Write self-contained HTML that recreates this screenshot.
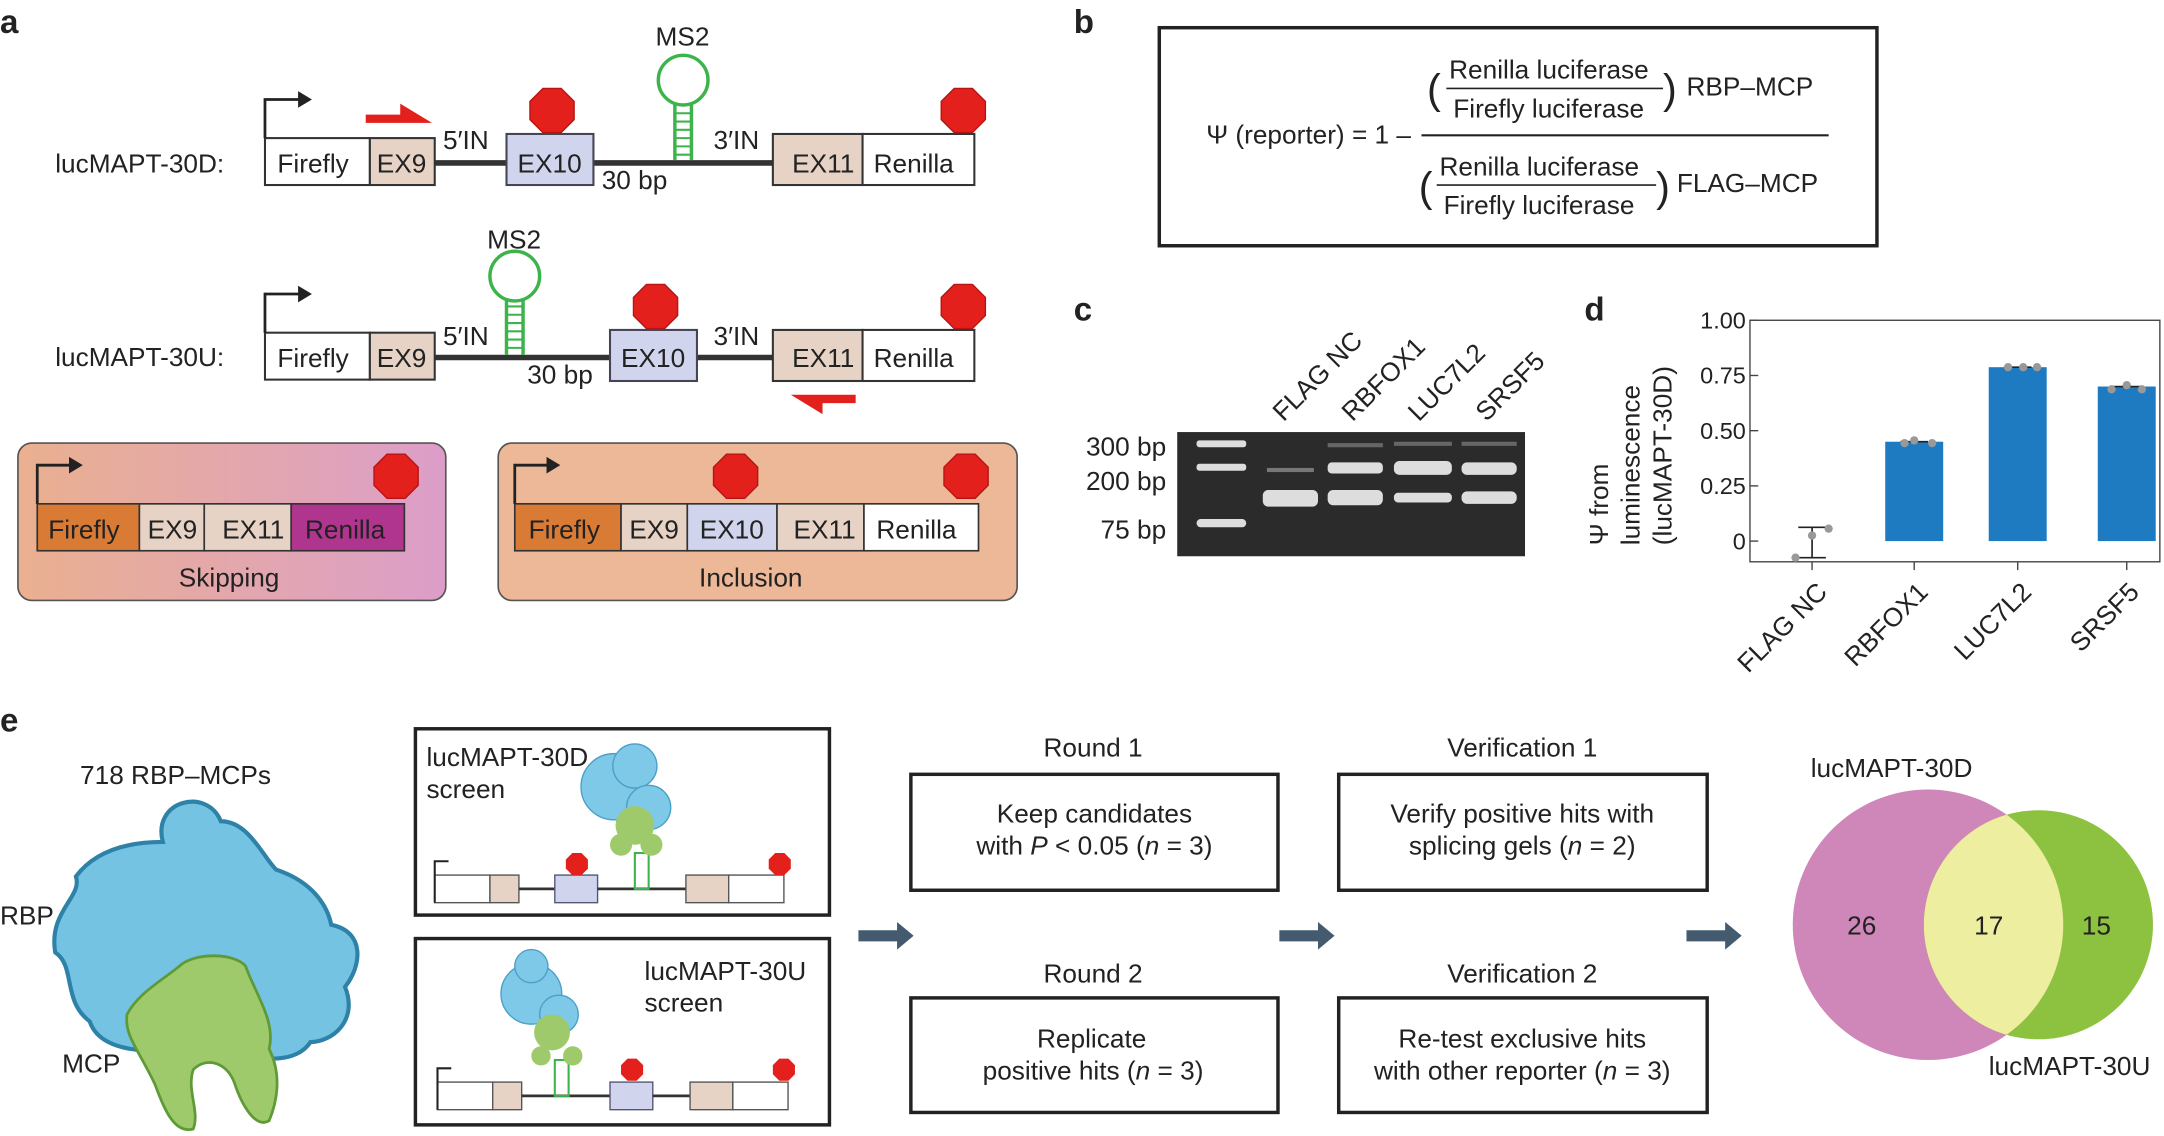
<!DOCTYPE html>
<html><head><meta charset="utf-8"><style>
html,body{margin:0;padding:0;background:#fff;}
svg{display:block;font-family:"Liberation Sans",sans-serif;}
</style></head><body>
<svg width="2164" height="1136" viewBox="0 0 1568 823" xmlns="http://www.w3.org/2000/svg">
<defs>
<polygon id="oct" points="-6.6,-16 6.6,-16 16,-6.6 16,6.6 6.6,16 -6.6,16 -16,6.6 -16,-6.6" fill="#e3201b" stroke="#b81414" stroke-width="1"/>
<polygon id="octs" points="-3.3,-8 3.3,-8 8,-3.3 8,3.3 3.3,8 -3.3,8 -8,3.3 -8,-3.3" fill="#e3201b"/>
<linearGradient id="skg" x1="0" x2="1" y1="0" y2="0"><stop offset="0" stop-color="#eab08f"/><stop offset="1" stop-color="#dc9ec9"/></linearGradient>
<clipPath id="cpink"><circle cx="1397" cy="670" r="98"/></clipPath>
</defs>
<g font-size="19" fill="#222">
<!-- panel a -->
<text x="0" y="24" font-size="24" font-weight="bold">a</text>
<text x="40" y="125">lucMAPT-30D:</text>
<line x1="315" y1="118" x2="367" y2="118" stroke="#333" stroke-width="4"/>
<line x1="430" y1="118" x2="560" y2="118" stroke="#333" stroke-width="4"/>
<rect x="192" y="100" width="76" height="34" fill="#fff" stroke="#333" stroke-width="1.5"/>
<rect x="268" y="100" width="47" height="34" fill="#e6d3c5" stroke="#333" stroke-width="1.5"/>
<rect x="367" y="97" width="63" height="37" fill="#d0d4ec" stroke="#445" stroke-width="1.5"/>
<rect x="560" y="97" width="65" height="37" fill="#e6d3c5" stroke="#333" stroke-width="1.5"/>
<rect x="625" y="97" width="81" height="37" fill="#fff" stroke="#333" stroke-width="1.5"/>
<text x="201" y="125">Firefly</text><text x="273" y="125">EX9</text><text x="375" y="125">EX10</text><text x="574" y="125">EX11</text><text x="633" y="125">Renilla</text>
<path d="M192 100 V72 H218" stroke="#222" stroke-width="2" fill="none"/><path d="M216 66 L226 72 L216 78 Z" fill="#222"/>
<path d="M265 89 H313 L290 75 L290 83 H265 Z" fill="#e3201b"/>
<text x="321" y="108">5′IN</text><text x="517" y="108">3′IN</text><text x="436" y="137">30 bp</text>
<g stroke="#3cb44b" stroke-width="2.5" fill="none"><line x1="489" y1="116" x2="489" y2="74"/><line x1="501" y1="116" x2="501" y2="74"/><circle cx="495" cy="58" r="18"/></g>
<g stroke="#3cb44b" stroke-width="1.5"><line x1="489" y1="112" x2="501" y2="112"/><line x1="489" y1="106" x2="501" y2="106"/><line x1="489" y1="100" x2="501" y2="100"/><line x1="489" y1="94" x2="501" y2="94"/><line x1="489" y1="88" x2="501" y2="88"/><line x1="489" y1="82" x2="501" y2="82"/></g>
<text x="475" y="33">MS2</text>
<use href="#oct" x="400" y="80"/><use href="#oct" x="698" y="80"/>

<text x="40" y="265">lucMAPT-30U:</text>
<line x1="315" y1="259" x2="442" y2="259" stroke="#333" stroke-width="4"/>
<line x1="505" y1="259" x2="560" y2="259" stroke="#333" stroke-width="4"/>
<rect x="192" y="241" width="76" height="34" fill="#fff" stroke="#333" stroke-width="1.5"/>
<rect x="268" y="241" width="47" height="34" fill="#e6d3c5" stroke="#333" stroke-width="1.5"/>
<rect x="442" y="239" width="63" height="37" fill="#d0d4ec" stroke="#445" stroke-width="1.5"/>
<rect x="560" y="239" width="65" height="37" fill="#e6d3c5" stroke="#333" stroke-width="1.5"/>
<rect x="625" y="239" width="81" height="37" fill="#fff" stroke="#333" stroke-width="1.5"/>
<text x="201" y="266">Firefly</text><text x="273" y="266">EX9</text><text x="450" y="266">EX10</text><text x="574" y="266">EX11</text><text x="633" y="266">Renilla</text>
<path d="M192 241 V213 H218" stroke="#222" stroke-width="2" fill="none"/><path d="M216 207 L226 213 L216 219 Z" fill="#222"/>
<path d="M620 286 H573 L596 300 L596 292 H620 Z" fill="#e3201b"/>
<text x="321" y="250">5′IN</text><text x="517" y="250">3′IN</text><text x="382" y="278">30 bp</text>
<g stroke="#3cb44b" stroke-width="2.5" fill="none"><line x1="367" y1="257" x2="367" y2="216"/><line x1="379" y1="257" x2="379" y2="216"/><circle cx="373" cy="200" r="18"/></g>
<g stroke="#3cb44b" stroke-width="1.5"><line x1="367" y1="252" x2="379" y2="252"/><line x1="367" y1="246" x2="379" y2="246"/><line x1="367" y1="240" x2="379" y2="240"/><line x1="367" y1="234" x2="379" y2="234"/><line x1="367" y1="228" x2="379" y2="228"/><line x1="367" y1="222" x2="379" y2="222"/></g>
<text x="353" y="180">MS2</text>
<use href="#oct" x="475" y="222"/><use href="#oct" x="698" y="222"/>

<rect x="13" y="321" width="310" height="114" rx="10" fill="url(#skg)" stroke="#555" stroke-width="1.2"/>
<rect x="27" y="365" width="74" height="34" fill="#d97a35" stroke="#333" stroke-width="1.2"/>
<rect x="101" y="365" width="47" height="34" fill="#e6d3c5" stroke="#333" stroke-width="1.2"/>
<rect x="148" y="365" width="63" height="34" fill="#e6d3c5" stroke="#333" stroke-width="1.2"/>
<rect x="211" y="365" width="82" height="34" fill="#b0358f" stroke="#333" stroke-width="1.2"/>
<text x="35" y="390">Firefly</text><text x="107" y="390">EX9</text><text x="161" y="390">EX11</text><text x="221" y="390">Renilla</text>
<path d="M27 365 V337 H52" stroke="#222" stroke-width="2" fill="none"/><path d="M50 331 L60 337 L50 343 Z" fill="#222"/>
<use href="#oct" x="287" y="345"/>
<text x="166" y="425" text-anchor="middle">Skipping</text>

<rect x="361" y="321" width="376" height="114" rx="10" fill="#ecb898" stroke="#555" stroke-width="1.2"/>
<rect x="373" y="365" width="77" height="34" fill="#d97a35" stroke="#333" stroke-width="1.2"/>
<rect x="450" y="365" width="48" height="34" fill="#e6d3c5" stroke="#333" stroke-width="1.2"/>
<rect x="498" y="365" width="65" height="34" fill="#d0d4ec" stroke="#333" stroke-width="1.2"/>
<rect x="563" y="365" width="63" height="34" fill="#e6d3c5" stroke="#333" stroke-width="1.2"/>
<rect x="626" y="365" width="83" height="34" fill="#fff" stroke="#333" stroke-width="1.2"/>
<text x="383" y="390">Firefly</text><text x="456" y="390">EX9</text><text x="507" y="390">EX10</text><text x="575" y="390">EX11</text><text x="635" y="390">Renilla</text>
<path d="M373 365 V337 H398" stroke="#222" stroke-width="2" fill="none"/><path d="M396 331 L406 337 L396 343 Z" fill="#222"/>
<use href="#oct" x="533" y="345"/><use href="#oct" x="700" y="345"/>
<text x="544" y="425" text-anchor="middle">Inclusion</text>

<!-- panel b -->
<text x="778" y="24" font-size="24" font-weight="bold">b</text>
<rect x="840" y="20" width="520" height="158" fill="none" stroke="#222" stroke-width="2.5"/>
<text x="874" y="104">Ψ (reporter) = 1 –</text>
<line x1="1030" y1="98" x2="1325" y2="98" stroke="#222" stroke-width="1.5"/>
<text x="1034" y="75" font-size="30" font-weight="200">(</text><text x="1205" y="75" font-size="30" font-weight="200">)</text>
<text x="1050" y="57">Renilla luciferase</text><line x1="1048" y1="64" x2="1205" y2="64" stroke="#222" stroke-width="1.2"/><text x="1053" y="85">Firefly luciferase</text>
<text x="1222" y="69">RBP–MCP</text>
<text x="1028" y="146" font-size="30" font-weight="200">(</text><text x="1200" y="146" font-size="30" font-weight="200">)</text>
<text x="1043" y="127">Renilla luciferase</text><line x1="1041" y1="134" x2="1200" y2="134" stroke="#222" stroke-width="1.2"/><text x="1046" y="155">Firefly luciferase</text>
<text x="1215" y="139">FLAG–MCP</text>

<!-- panel c -->
<text x="778" y="232" font-size="24" font-weight="bold">c</text>
<rect x="853" y="313" width="252" height="90" fill="#2b2b2b"/>
<g fill="#ddd"><rect x="867" y="319" width="36" height="5" rx="2"/><rect x="867" y="336" width="36" height="5" rx="2"/><rect x="867" y="376" width="36" height="6" rx="3"/>
<rect x="915" y="355" width="40" height="12" rx="4"/><rect x="918" y="339" width="34" height="3" fill="#777"/>
<rect x="962" y="335" width="40" height="8" rx="3"/><rect x="962" y="355" width="40" height="11" rx="4"/><rect x="962" y="321" width="40" height="3" fill="#666"/>
<rect x="1010" y="334" width="42" height="10" rx="4"/><rect x="1010" y="357" width="42" height="7" rx="3"/><rect x="1010" y="320" width="42" height="3" fill="#666"/>
<rect x="1059" y="335" width="40" height="9" rx="4"/><rect x="1059" y="356" width="40" height="9" rx="4"/><rect x="1059" y="320" width="40" height="3" fill="#666"/></g>
<text x="845" y="330" text-anchor="end">300 bp</text><text x="845" y="355" text-anchor="end">200 bp</text><text x="845" y="390" text-anchor="end">75 bp</text>
<text transform="translate(930,306) rotate(-45)">FLAG NC</text>
<text transform="translate(980,306) rotate(-45)">RBFOX1</text>
<text transform="translate(1028,306) rotate(-45)">LUC7L2</text>
<text transform="translate(1077,306) rotate(-45)">SRSF5</text>

<!-- panel d -->
<text x="1148" y="232" font-size="24" font-weight="bold">d</text>
<rect x="1268" y="232" width="297" height="175" fill="none" stroke="#444" stroke-width="1"/>
<g font-size="17" text-anchor="end"><text x="1265" y="238">1.00</text><text x="1265" y="278">0.75</text><text x="1265" y="318">0.50</text><text x="1265" y="358">0.25</text><text x="1265" y="398">0</text></g>
<g stroke="#444"><line x1="1268" y1="232" x2="1274" y2="232"/><line x1="1268" y1="272" x2="1274" y2="272"/><line x1="1268" y1="312" x2="1274" y2="312"/><line x1="1268" y1="352" x2="1274" y2="352"/><line x1="1268" y1="392" x2="1274" y2="392"/>
<line x1="1313" y1="407" x2="1313" y2="413"/><line x1="1387" y1="407" x2="1387" y2="413"/><line x1="1462" y1="407" x2="1462" y2="413"/><line x1="1541" y1="407" x2="1541" y2="413"/></g>
<rect x="1366" y="320" width="42" height="72" fill="#1f7bc1"/>
<rect x="1441" y="266" width="42" height="126" fill="#1f7bc1"/>
<rect x="1520" y="280" width="42" height="112" fill="#1f7bc1"/>
<g stroke="#222" stroke-width="1.2"><line x1="1313" y1="382" x2="1313" y2="404"/><line x1="1303" y1="382" x2="1323" y2="382"/><line x1="1303" y1="404" x2="1323" y2="404"/><line x1="1377" y1="320" x2="1397" y2="320"/><line x1="1452" y1="266" x2="1472" y2="266"/><line x1="1531" y1="280" x2="1551" y2="280"/></g>
<g fill="#999"><circle cx="1301" cy="404" r="3"/><circle cx="1313" cy="388" r="3"/><circle cx="1325" cy="383" r="3"/><circle cx="1380" cy="321" r="3"/><circle cx="1387" cy="319" r="3"/><circle cx="1400" cy="321" r="3"/><circle cx="1455" cy="266" r="3"/><circle cx="1466" cy="266" r="3"/><circle cx="1476" cy="266" r="3"/><circle cx="1530" cy="282" r="3"/><circle cx="1541" cy="279" r="3"/><circle cx="1552" cy="282" r="3"/></g>
<text transform="translate(1165,395) rotate(-90)">Ψ from</text>
<text transform="translate(1188,395) rotate(-90)">luminescence</text>
<text transform="translate(1211,395) rotate(-90)">(lucMAPT-30D)</text>
<text transform="translate(1325,430) rotate(-45)" text-anchor="end">FLAG NC</text>
<text transform="translate(1398,430) rotate(-45)" text-anchor="end">RBFOX1</text>
<text transform="translate(1473,430) rotate(-45)" text-anchor="end">LUC7L2</text>
<text transform="translate(1551,430) rotate(-45)" text-anchor="end">SRSF5</text>

<!-- panel e -->
<text x="0" y="530" font-size="24" font-weight="bold">e</text>
<text x="58" y="568">718 RBP–MCPs</text>
<text x="0" y="670">RBP</text><text x="45" y="777">MCP</text>
<g fill="#74c3e3" stroke="#2e82a8" stroke-width="3">
<path d="M118 610 C110 580 150 570 160 595 C180 595 190 620 200 630 C230 640 238 660 240 670 C265 675 262 700 250 715 C260 740 240 755 225 755 C215 770 190 770 170 760 C130 760 75 770 65 740 C45 725 55 700 40 690 C35 660 60 650 55 635 C70 615 95 610 118 610 Z"/></g>
<g fill="#9fca6c" stroke="#5e9a35" stroke-width="2">
<path d="M130 700 C140 690 170 690 178 700 C185 720 200 740 195 760 C205 780 200 800 195 812 C185 818 175 800 170 785 C165 770 150 765 140 775 C135 790 145 805 140 818 C125 822 118 800 112 785 C100 760 90 750 92 735 C100 720 115 712 130 700 Z"/></g>

<rect x="301" y="528" width="300" height="135" fill="none" stroke="#222" stroke-width="2.5"/>
<text x="309" y="555">lucMAPT-30D</text><text x="309" y="578">screen</text>
<rect x="315" y="634" width="40" height="20" fill="#fff" stroke="#555"/><rect x="355" y="634" width="21" height="20" fill="#e6d3c5" stroke="#555"/>
<line x1="376" y1="644" x2="402" y2="644" stroke="#333" stroke-width="2"/><rect x="402" y="634" width="31" height="20" fill="#d0d4ec" stroke="#557"/>
<line x1="433" y1="644" x2="497" y2="644" stroke="#333" stroke-width="2"/><rect x="497" y="634" width="31" height="20" fill="#e6d3c5" stroke="#555"/><rect x="528" y="634" width="40" height="20" fill="#fff" stroke="#555"/>
<path d="M315 654 V624 H325" stroke="#222" stroke-width="1.5" fill="none"/><use href="#octs" x="418" y="626"/><use href="#octs" x="565" y="626"/>
<rect x="460" y="618" width="10" height="26" fill="none" stroke="#3cb44b" stroke-width="1.5"/>
<g fill="#7ec8e8" stroke="#4aa0c8"><circle cx="445" cy="570" r="24"/><circle cx="460" cy="555" r="16"/><circle cx="470" cy="585" r="16"/></g>
<g fill="#9fca6c"><circle cx="460" cy="598" r="14"/><circle cx="450" cy="612" r="8"/><circle cx="472" cy="612" r="8"/></g>

<rect x="301" y="680" width="300" height="135" fill="none" stroke="#222" stroke-width="2.5"/>
<text x="467" y="710">lucMAPT-30U</text><text x="467" y="733">screen</text>
<rect x="317" y="784" width="40" height="20" fill="#fff" stroke="#555"/><rect x="357" y="784" width="21" height="20" fill="#e6d3c5" stroke="#555"/>
<line x1="378" y1="794" x2="442" y2="794" stroke="#333" stroke-width="2"/><rect x="442" y="784" width="31" height="20" fill="#d0d4ec" stroke="#557"/>
<line x1="473" y1="794" x2="500" y2="794" stroke="#333" stroke-width="2"/><rect x="500" y="784" width="31" height="20" fill="#e6d3c5" stroke="#555"/><rect x="531" y="784" width="40" height="20" fill="#fff" stroke="#555"/>
<path d="M317 804 V774 H327" stroke="#222" stroke-width="1.5" fill="none"/><use href="#octs" x="458" y="775"/><use href="#octs" x="568" y="775"/>
<rect x="402" y="768" width="10" height="26" fill="none" stroke="#3cb44b" stroke-width="1.5"/>
<g fill="#7ec8e8" stroke="#4aa0c8"><circle cx="385" cy="720" r="22"/><circle cx="385" cy="700" r="12"/><circle cx="405" cy="735" r="14"/></g>
<g fill="#9fca6c"><circle cx="400" cy="748" r="13"/><circle cx="392" cy="765" r="7"/><circle cx="415" cy="765" r="7"/></g>

<g fill="#445a6e"><path d="M622 674 H650 V668 L662 678 L650 688 V682 H622 Z"/><path d="M927 674 H955 V668 L967 678 L955 688 V682 H927 Z"/><path d="M1222 674 H1250 V668 L1262 678 L1250 688 V682 H1222 Z"/></g>

<text x="792" y="548" text-anchor="middle">Round 1</text>
<rect x="660" y="561" width="266" height="84" fill="none" stroke="#222" stroke-width="2.5"/>
<text x="793" y="596" text-anchor="middle">Keep candidates</text>
<text x="793" y="619" text-anchor="middle">with <tspan font-style="italic">P</tspan> &lt; 0.05 (<tspan font-style="italic">n</tspan> = 3)</text>
<text x="792" y="712" text-anchor="middle">Round 2</text>
<rect x="660" y="723" width="266" height="83" fill="none" stroke="#222" stroke-width="2.5"/>
<text x="791" y="759" text-anchor="middle">Replicate</text>
<text x="792" y="782" text-anchor="middle">positive hits (<tspan font-style="italic">n</tspan> = 3)</text>

<text x="1103" y="548" text-anchor="middle">Verification 1</text>
<rect x="970" y="561" width="267" height="84" fill="none" stroke="#222" stroke-width="2.5"/>
<text x="1103" y="596" text-anchor="middle">Verify positive hits with</text>
<text x="1103" y="619" text-anchor="middle">splicing gels (<tspan font-style="italic">n</tspan> = 2)</text>
<text x="1103" y="712" text-anchor="middle">Verification 2</text>
<rect x="970" y="723" width="267" height="83" fill="none" stroke="#222" stroke-width="2.5"/>
<text x="1103" y="759" text-anchor="middle">Re-test exclusive hits</text>
<text x="1103" y="782" text-anchor="middle">with other reporter (<tspan font-style="italic">n</tspan> = 3)</text>

<circle cx="1397" cy="670" r="98" fill="#cf86b8"/>
<circle cx="1477" cy="670" r="83" fill="#8cc23f"/>
<circle cx="1477" cy="670" r="83" fill="#eeeea0" clip-path="url(#cpink)"/>
<text x="1349" y="677" text-anchor="middle">26</text><text x="1441" y="677" text-anchor="middle">17</text><text x="1519" y="677" text-anchor="middle">15</text>
<text x="1312" y="563">lucMAPT-30D</text><text x="1441" y="779">lucMAPT-30U</text>
</g>
</svg>
</body></html>
